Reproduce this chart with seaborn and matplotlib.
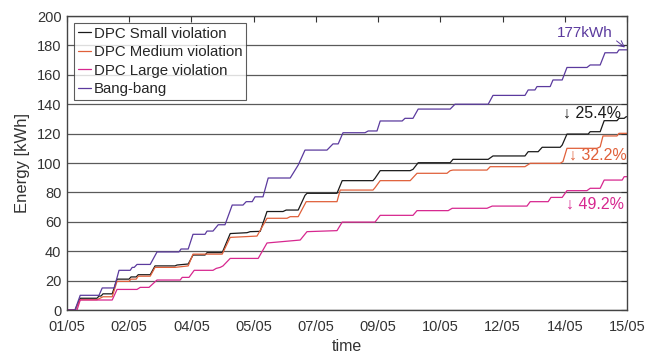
import numpy as np
import pandas as pd
import matplotlib
matplotlib.use("Agg")
import matplotlib.pyplot as plt
import seaborn as sns

# time in days since 01/05, energy in kWh
bang_t = [0, 0.2, 0.33, 0.8, 0.88, 1.18, 1.3, 1.58, 1.63, 1.68, 1.75, 2.08, 2.25, 2.8, 2.85,
          3.03, 3.15, 3.45, 3.5, 3.65, 3.78, 3.95, 4.13, 4.4, 4.48, 4.63, 4.7, 4.9, 5.03, 5.58,
          5.78, 5.95, 6.5, 6.65, 6.78, 6.9, 7.45, 7.53, 7.75, 7.83, 8.38, 8.45, 8.65, 8.78, 9.58,
          9.7, 10.53, 10.65, 11.45, 11.53, 11.7, 11.75, 12.08, 12.15, 12.38, 12.5, 13.0, 13.08,
          13.33, 13.45, 13.75, 13.8, 14.0]
bang_e = [0, 0, 10, 10, 15, 15, 27, 27, 29, 29, 31, 31, 39.5, 39.5, 41.5,
          41.5, 51.5, 51.5, 53.7, 53.7, 58, 58, 71.4, 71.4, 73.7, 73.7, 77, 77, 89.8, 89.8,
          98.6, 108.8, 108.8, 113, 113, 120.6, 120.6, 121.8, 121.8, 128.6, 128.6, 130.4, 130.4, 136.7, 136.7,
          140, 140, 146, 146, 149.7, 149.7, 152, 152, 156.5, 156.5, 165, 165, 166.7,
          166.7, 175, 175, 177, 177]

small_t = [0, 0.2, 0.33, 0.75, 0.8, 0.85, 0.9, 1.13, 1.25, 1.55, 1.6, 1.73, 1.78, 2.08, 2.2,
           2.7, 2.75, 3.03, 3.15, 3.45, 3.5, 3.88, 4.08, 4.5, 4.58, 4.83, 5.0, 5.4, 5.48, 5.78,
           5.95, 6.0, 6.75, 6.88, 7.65, 7.7, 7.83, 8.58, 8.65, 8.78, 9.58, 9.65, 10.53, 10.65, 11.45,
           11.53, 11.78, 11.88, 12.33, 12.38, 12.5, 13.03, 13.08, 13.33, 13.43, 13.75, 13.8, 13.93,
           13.98, 14.0]
small_e = [0, 0, 8, 8, 9.5, 9.5, 11, 11, 21, 21, 22.5, 22.5, 24, 24, 30,
           30, 30.6, 31.3, 37.4, 37.4, 39, 39, 52, 52.6, 53.3, 53.5, 67, 67, 68, 68,
           78, 79.4, 79.4, 88, 88, 89.6, 94.8, 94.8, 95.7, 100.2, 100.2, 102.5, 102.5, 104.8, 104.8,
           107.7, 107.7, 110.7, 110.7, 112.2, 119.7, 119.7, 121.3, 121.3, 128.8, 128.8, 130.4, 130.4,
           131.5, 131.5]

medium_t = [0, 0.2, 0.33, 0.75, 0.9, 1.13, 1.25, 1.55, 1.6, 1.73, 1.78, 2.08, 2.2, 2.7, 3.03,
            3.15, 3.88, 4.08, 4.75, 5.0, 5.5, 5.58, 5.78, 5.98, 6.75, 6.83, 7.65, 7.7, 7.83, 8.58,
            8.75, 9.5, 9.58, 9.65, 10.5, 10.58, 11.45, 11.58, 12.33, 12.4, 12.5, 13.25, 13.33, 13.4,
            13.75, 13.8, 14.0]
medium_e = [0, 0, 7, 7, 9, 9, 19.5, 19.5, 21, 21, 23, 23, 29, 29, 30,
            38, 38, 49.4, 50.3, 62.4, 62.4, 63.5, 63.5, 73.7, 73.7, 81.6, 81.6, 83.2, 88, 88,
            93, 93, 94.8, 95.2, 95.2, 97.5, 97.5, 99.8, 99.8, 101, 110, 110, 111, 118.4,
            118.4, 120.2, 120.2]

large_t = [0, 0.25, 0.33, 1.13, 1.25, 1.75, 1.83, 2.05, 2.25, 2.83, 2.88, 3.05, 3.18, 3.65, 3.73,
           3.83, 3.9, 4.08, 4.78, 5.0, 5.83, 6.0, 6.75, 6.88, 7.7, 7.83, 8.65, 8.75, 9.53, 9.63,
           10.5, 10.63, 11.5, 11.58, 12.03, 12.1, 12.38, 12.5, 13.0, 13.08, 13.33, 13.43, 13.88,
           13.93, 14.0]
large_e = [0, 0, 6.8, 6.8, 14, 14, 15.4, 15.4, 20.4, 20.4, 22.2, 22.2, 27, 27, 28.3,
           29, 30, 35.1, 35.1, 45.6, 47.6, 53.3, 54, 59.8, 59.8, 64.4, 64.4, 67.6, 67.6, 69.2,
           69.2, 70.7, 70.7, 73.7, 73.7, 76.6, 76.6, 81.2, 81.2, 82.8, 82.8, 88.4, 88.4,
           90.7, 90.7]

series_names = ["DPC Small violation", "DPC Medium violation", "DPC Large violation", "Bang-bang"]
series_colors = ["#1a1a1a", "#e0603a", "#d7278f", "#5b3a9e"]
tick_labels = ["01/05", "02/05", "04/05", "05/05", "07/05", "09/05", "10/05", "12/05", "14/05", "15/05"]
reductions = ["25.4%", "32.2%", "49.2%"]

frames = []
for name, t, e in zip(series_names,
                      [small_t, medium_t, large_t, bang_t],
                      [small_e, medium_e, large_e, bang_e]):
    frames.append(pd.DataFrame({"time": t, "energy": e, "series": name}))
df = pd.concat(frames, ignore_index=True)

sns.set_style("white")
plt.rcParams['font.family'] = ['Liberation Sans', 'DejaVu Sans']

fig = plt.figure(figsize=(6.59, 3.56), dpi=100)
ax = fig.add_axes([0.1017, 0.1292, 0.8497, 0.8258])

palette = dict(zip(series_names, series_colors))
sns.lineplot(data=df, x="time", y="energy", hue="series", hue_order=series_names,
             palette=palette, estimator=None, sort=False, linewidth=0.9, ax=ax)

ax.set_xlim(0, 14)
ax.set_ylim(0, 200)
ax.set_xticks(np.linspace(0, 14, len(tick_labels)))
ax.set_xticklabels(tick_labels)
ax.set_yticks(np.arange(0, 201, 20))
ax.yaxis.grid(True, color="#5a5a5a", linewidth=0.9)
ax.xaxis.grid(False)
ax.set_axisbelow(True)
ax.tick_params(direction="in", length=4, width=0.8, top=True, right=True,
               labelsize=10.5, colors="#333333")
ax.tick_params(axis="x", pad=7)
ax.tick_params(axis="y", pad=4)
for sp in ax.spines.values():
    sp.set_color("#444444")
    sp.set_linewidth(1.0)

ax.set_xlabel("time", fontsize=11.5, color="#333333", labelpad=4)
ax.set_ylabel("Energy [kWh]", fontsize=12, color="#333333", labelpad=5)

leg = ax.legend(loc="upper left", fontsize=10.8, frameon=True, fancybox=False,
                handlelength=0.9, handletextpad=0.2, borderpad=0.25, labelspacing=0.3,
                borderaxespad=0.45)
leg.get_frame().set_edgecolor("#333333")
leg.get_frame().set_linewidth(0.8)
leg.set_title(None)

# annotations at the end of the horizon
ax.annotate("177kWh", xy=(13.95, 178.6), xytext=(13.63, 183.5), ha="right", va="bottom",
            fontsize=11, color=series_colors[3],
            arrowprops=dict(arrowstyle="->", color=series_colors[3], lw=0.7, relpos=(1.0, 0.2),
                            shrinkA=1, shrinkB=0))
ax.text(12.4, 134, "\u2193 " + reductions[0], fontsize=11.5, color=series_colors[0], va="center")
ax.text(12.55, 105.4, "\u2193 " + reductions[1], fontsize=11.5, color=series_colors[1], va="center")
ax.text(12.48, 72.1, "\u2193 " + reductions[2], fontsize=11.5, color=series_colors[2], va="center")

fig.savefig("out.png", dpi=100)
